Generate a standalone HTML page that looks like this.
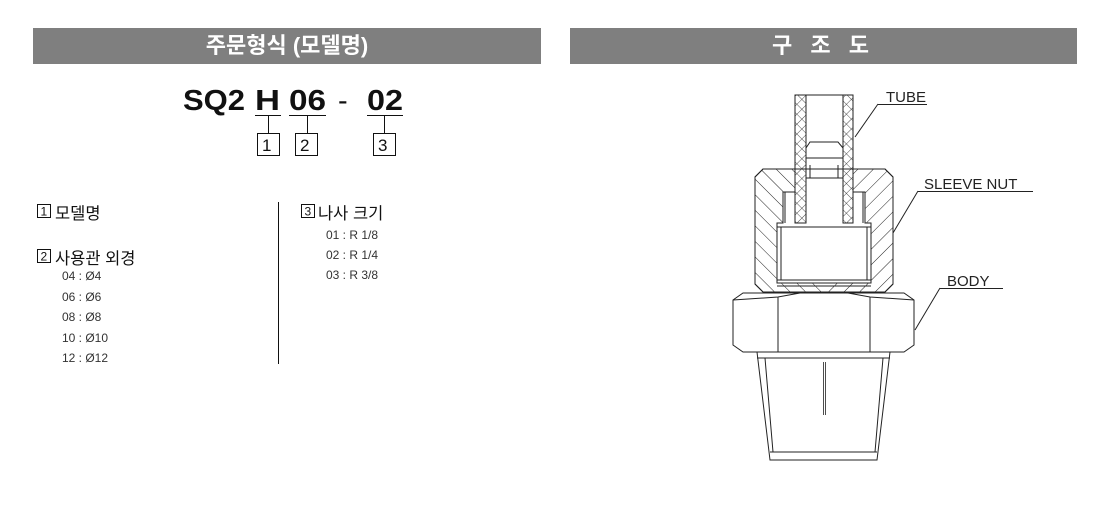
<!DOCTYPE html>
<html><head><meta charset="utf-8"><style>
html,body{margin:0;padding:0;background:#fff;width:1117px;height:526px;overflow:hidden;font-family:"Liberation Sans","Noto Sans CJK KR",sans-serif}
.bar{position:absolute;top:28px;height:36px;background:#7f7f7f;color:#fff;font-weight:bold;font-size:22px;text-align:center;line-height:36px}
.t{position:absolute;white-space:nowrap;color:#111}
</style></head><body>
<div class="bar" style="left:33px;width:508px">주문형식 (모델명)</div>
<div class="bar" style="left:570px;width:507px;letter-spacing:6px">구 조 도</div>

<svg width="1117" height="526" style="position:absolute;left:0;top:0" xmlns="http://www.w3.org/2000/svg">
<g font-family="Liberation Sans, sans-serif" fill="#111" font-size="29" font-weight="bold">
<text x="183" y="110" textLength="62" lengthAdjust="spacingAndGlyphs">SQ2</text>
<text x="255" y="110" textLength="25" lengthAdjust="spacingAndGlyphs">H</text>
<text x="289" y="110" textLength="37" lengthAdjust="spacingAndGlyphs">06</text>
<text x="338" y="110" font-weight="normal">-</text>
<text x="367" y="110" textLength="36" lengthAdjust="spacingAndGlyphs">02</text>
</g>
<g stroke="#111" stroke-width="1" fill="none">
<line x1="255" y1="115.5" x2="281" y2="115.5"/><line x1="268.5" y1="116" x2="268.5" y2="133"/>
<line x1="289" y1="115.5" x2="326" y2="115.5"/><line x1="307.5" y1="116" x2="307.5" y2="133"/>
<line x1="367" y1="115.5" x2="403" y2="115.5"/><line x1="384.5" y1="116" x2="384.5" y2="133"/>
<rect x="257.5" y="133.5" width="22" height="22"/><rect x="295.5" y="133.5" width="22" height="22"/><rect x="373.5" y="133.5" width="22" height="22"/>
<line x1="278.5" y1="202" x2="278.5" y2="364"/>
</g>
<g font-family="Liberation Sans, sans-serif" fill="#111" font-size="17"><text x="262" y="151">1</text><text x="300" y="151">2</text><text x="378" y="151">3</text></g>
<g stroke="#111" fill="none"><rect x="37.5" y="204.5" width="13" height="13"/><rect x="37.5" y="249.5" width="13" height="13"/><rect x="301.5" y="204.5" width="13" height="13"/></g>
<g font-family="Liberation Sans, sans-serif" fill="#111" font-size="12"><text x="40.5" y="215.5">1</text><text x="40.5" y="260.5">2</text><text x="304.5" y="215.5">3</text></g>

<defs>
<pattern id="hl" width="11" height="11" patternUnits="userSpaceOnUse" patternTransform="rotate(-45)"><line x1="0" y1="0" x2="0" y2="11" stroke="#222" stroke-width="1"/></pattern>
<pattern id="hr" width="11" height="11" patternUnits="userSpaceOnUse" patternTransform="rotate(45)"><line x1="0" y1="0" x2="0" y2="11" stroke="#222" stroke-width="1"/></pattern>
<pattern id="x" width="7" height="7" patternUnits="userSpaceOnUse" patternTransform="rotate(45)"><path d="M0 0V7M0 0H7" stroke="#222" stroke-width="0.8"/></pattern>
<clipPath id="cl"><rect x="740" y="160" width="84" height="140"/></clipPath>
<clipPath id="cr"><rect x="824" y="160" width="84" height="140"/></clipPath>
</defs>
<g stroke="#222" stroke-width="1" fill="none">
<path clip-path="url(#cl)" d="M763 169 H885 L893 177 V284 L885 292 H763 L755 284 V177 Z M783 192 H795 V169 H853 V192 H865 V223 H871 V283 H777 V223 H783 Z" fill="url(#hl)" fill-rule="evenodd"/>
<path clip-path="url(#cr)" d="M763 169 H885 L893 177 V284 L885 292 H763 L755 284 V177 Z M783 192 H795 V169 H853 V192 H865 V223 H871 V283 H777 V223 H783 Z" fill="url(#hr)" fill-rule="evenodd"/>
<path d="M763 169 H885 L893 177 V284 L885 292 H763 L755 284 V177 Z"/>
<rect x="795" y="95" width="11" height="128" fill="url(#x)"/>
<rect x="843" y="95" width="10" height="128" fill="url(#x)"/>
<line x1="795" y1="95" x2="853" y2="95"/>
<path d="M806 148 L810 142 H838 L843 148 M806 158 H843 M810 165 V178 M838 165 V178 M806 178 H843"/>
<line x1="785" y1="192" x2="785" y2="223"/><line x1="863" y1="192" x2="863" y2="223"/>
<line x1="777" y1="227" x2="871" y2="227"/><line x1="781" y1="227" x2="781" y2="280"/><line x1="867" y1="227" x2="867" y2="280"/>
<line x1="777" y1="280" x2="871" y2="280"/><line x1="777" y1="286" x2="871" y2="286"/>
<path d="M743 293 H904 L914 300 V345 L904 352 H743 L733 345 V300 Z" fill="#fff"/>
<line x1="778" y1="297" x2="778" y2="352"/><line x1="870" y1="297" x2="870" y2="352"/>
<path d="M733 300 L778 297 L800 293 M848 293 L870 297 L914 300"/>
<path d="M757 352 L770 460 H877 L890 352"/>
<path d="M765 358 L773 452 M883 358 L875 452 M770 452 H877 M757 358 H890"/>
<line x1="823.5" y1="362" x2="823.5" y2="415" stroke-width="0.8"/><line x1="825.5" y1="362" x2="825.5" y2="415" stroke-width="0.8"/>
<path d="M878 104.5 H927 M878 104 L855 137"/>
<path d="M918 191.5 H1033 M918 191 L893 233"/>
<path d="M940 288.5 H1003 M940 288 L915 330"/>
</g>
<g font-family="Liberation Sans, sans-serif" fill="#222" font-size="15"><text x="886" y="102">TUBE</text><text x="924" y="189">SLEEVE NUT</text><text x="947" y="286">BODY</text></g>
</svg>
<div class="t" style="left:55px;top:200px;font-size:16.5px">모델명</div>
<div class="t" style="left:55px;top:245px;font-size:16.5px">사용관 외경</div>
<div class="t" style="left:318px;top:200px;font-size:16.5px">나사 크기</div>
<div class="t" style="left:62px;top:266px;font-size:12px;line-height:20.5px;color:#333">04 : Ø4<br>06 : Ø6<br>08 : Ø8<br>10 : Ø10<br>12 : Ø12</div>
<div class="t" style="left:326px;top:225px;font-size:12px;line-height:20px;color:#333">01 : R 1/8<br>02 : R 1/4<br>03 : R 3/8</div>
</body></html>
